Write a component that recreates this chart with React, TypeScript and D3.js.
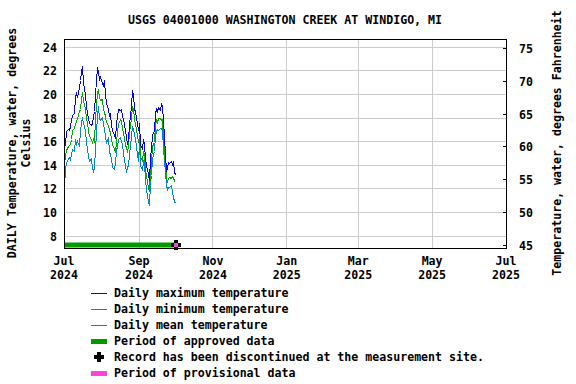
import React from 'react';
import * as d3 from 'd3';

// daily values, Jul 1 2024 .. Oct 2 2024 (deg C)
const startDate = new Date(2024, 6, 1);
const maxTemp = [
  15.6, 15.8, 16.9, 17.1, 17.0, 17.3, 17.8, 18.3, 18.4, 19.9, 20.1, 19.8, 20.6, 21.2, 22.0, 22.4,
  21.0, 20.0, 19.0, 18.5, 18.0, 17.6, 17.4, 17.6, 18.2, 18.6, 20.0, 22.3, 22.0, 21.3, 21.5, 21.0,
  20.8, 21.2, 20.0, 19.3, 18.8, 18.2, 18.4, 17.4, 17.0, 16.6, 16.4, 17.5, 18.2, 18.8, 18.7, 18.8,
  18.3, 17.9, 17.0, 16.4, 15.8, 16.2, 17.5, 19.0, 20.4, 20.0, 18.8, 18.6, 17.6, 17.0, 17.6, 15.8,
  15.4, 16.2, 15.8, 14.6, 14.0, 13.3, 12.8, 14.6, 15.5, 16.6, 17.0, 18.4, 18.8, 18.6, 18.9, 18.7,
  19.2, 19.0, 17.8, 15.0, 13.6, 13.8, 14.3, 14.2, 14.4, 14.1, 14.3, 13.5, 13.2,
];
const minTemp = [
  12.2, 13.8, 14.2, 14.6, 14.7, 14.5, 15.0, 15.4, 15.2, 16.2, 15.8, 16.1, 15.6, 17.0, 17.6, 18.1,
  17.6, 17.0, 16.0, 15.4, 14.9, 14.4, 14.6, 13.8, 13.5, 13.9, 15.4, 18.2, 19.0, 18.0, 17.8, 18.1,
  17.5, 17.2, 16.5, 16.0, 16.3, 15.2, 14.9, 14.6, 13.9, 13.7, 14.2, 15.3, 15.6, 16.2, 16.4, 16.0,
  15.9, 15.0, 14.0, 13.4, 13.9, 14.0, 15.0, 16.5, 17.3, 17.0, 16.7, 16.2, 15.0, 14.4, 15.9, 14.0,
  13.6, 14.4, 14.2, 12.8, 12.0, 11.0, 10.6, 12.6, 13.2, 14.6, 15.2, 16.6, 16.9, 17.1, 17.0, 17.2,
  17.2, 17.0, 15.5, 13.4, 12.3, 12.0, 12.2, 12.2, 12.3, 11.8, 11.3, 11.0, 10.8,
];
const meanTemp = [
  14.2, 14.8, 15.3, 15.6, 15.7, 15.8, 16.2, 17.0, 17.2, 17.6, 17.7, 18.0, 18.6, 18.8, 19.6, 20.2,
  19.5, 18.8, 18.0, 17.6, 17.0, 16.5, 16.2, 16.0, 16.2, 16.0, 18.0, 20.2, 20.5, 19.8, 19.5, 19.6,
  18.8, 18.5, 18.2, 17.7, 17.4, 17.0, 16.8, 16.2, 15.8, 15.4, 15.2, 16.0, 16.8, 17.5, 17.9, 17.8,
  17.2, 16.8, 15.8, 15.5, 15.2, 15.6, 16.8, 18.0, 19.0, 18.8, 18.0, 17.5, 16.6, 16.0, 16.6, 14.8,
  14.4, 15.2, 15.0, 13.7, 13.2, 12.2, 11.8, 13.5, 14.3, 15.6, 16.0, 17.5, 17.8, 17.7, 18.0, 18.0,
  17.8, 17.9, 16.4, 14.0, 12.9, 12.7, 12.9, 13.0, 12.9, 13.1, 13.0, 12.7, 12.6,
];
const celsiusTicks = [8, 10, 12, 14, 16, 18, 20, 22, 24];
const fahrenheitTicks = [45, 50, 55, 60, 65, 70, 75];
const monthTicks = [
  new Date(2024, 6, 1), new Date(2024, 8, 1), new Date(2024, 10, 1), new Date(2025, 0, 1),
  new Date(2025, 2, 1), new Date(2025, 4, 1), new Date(2025, 6, 1),
];
const approvedStart = new Date(2024, 6, 1);
const approvedEnd = new Date(2024, 9, 2);
const discontinuedDate = new Date(2024, 9, 2);

const legendItems = [
  { label: 'Daily maximum temperature', kind: 'line', color: '#0000ff' },
  { label: 'Daily minimum temperature', kind: 'line', color: '#0088cc' },
  { label: 'Daily mean temperature', kind: 'line', color: '#00aa00' },
  { label: 'Period of approved data', kind: 'bar', color: '#009900' },
  { label: 'Record has been discontinued at the measurement site.', kind: 'cross', color: '#000000' },
  { label: 'Period of provisional data', kind: 'bar', color: '#ff44dd' },
];

const font = '"DejaVu Sans Mono", monospace';

const App: React.FC = () => {
  const width = 576;
  const height = 384;
  const box = { left: 64, right: 506, top: 39, bottom: 248 };

  const x = d3.scaleTime().domain([monthTicks[0], monthTicks[monthTicks.length - 1]]).range([box.left, box.right]);
  const y = d3.scaleLinear().domain([7, 24.7]).range([box.bottom, box.top]);
  const yF = (f: number) => y(((f - 32) * 5) / 9);

  const day = (i: number) => d3.timeDay.offset(startDate, i);
  const line = (vals: number[]) =>
    d3.line<number>().x((_, i) => Math.round(x(day(i))) + 0.5).y((d) => Math.round(y(d)) + 0.5)(vals) || '';

  const barY = box.bottom - 3;
  const mx = Math.round(x(discontinuedDate)) - 1;

  return (
    <div style={{ position: 'absolute', left: 0, top: 0 }}>
      <svg width={width} height={height} style={{ display: 'block', background: '#fff' }}>
        <text x={285} y={24} textAnchor="middle" fontFamily={font} fontWeight="bold" fontSize={11.6}>
          USGS 04001000 WASHINGTON CREEK AT WINDIGO, MI
        </text>

        {/* grid */}
        <g shapeRendering="crispEdges">
          {celsiusTicks.map((t) => (
            <line key={'gy' + t} x1={box.left} x2={box.right} y1={y(t)} y2={y(t)} stroke="#cccccc" />
          ))}
          {monthTicks.slice(1, -1).map((t) => (
            <line key={'gx' + t.getTime()} x1={x(t)} x2={x(t)} y1={box.top} y2={box.bottom} stroke="#cccccc" />
          ))}
        </g>

        {/* series */}
        <g shapeRendering="crispEdges">
          <path d={line(minTemp)} fill="none" stroke="#0088cc" strokeWidth={1} />
          <path d={line(meanTemp)} fill="none" stroke="#00aa00" strokeWidth={1} />
          <path d={line(maxTemp)} fill="none" stroke="#0000ff" strokeWidth={1} />
        </g>

        {/* approved period bar + discontinued marker */}
        <line x1={x(approvedStart)} x2={x(approvedEnd)} y1={barY} y2={barY} stroke="#009900" strokeWidth={5} />
        <path d={`M${mx - 2},${barY - 5}h4v3h3v4h-3v3h-4v-3h-3v-4h3z`} fill="#000" />
        <rect x={mx - 2} y={barY - 2} width={4} height={4} fill="#ff44dd" />

        <rect
          x={box.left}
          y={box.top}
          width={box.right - box.left}
          height={box.bottom - box.top}
          fill="none"
          stroke="#000"
          shapeRendering="crispEdges"
        />

        {/* left axis labels */}
        {celsiusTicks.map((t) => (
          <text key={'cl' + t} x={57} y={y(t) + 4.5} textAnchor="end" fontFamily={font} fontWeight="bold" fontSize={11.6}>
            {t}
          </text>
        ))}
        {/* right axis */}
        {fahrenheitTicks.map((t) => (
          <g key={'fl' + t}>
            <line x1={box.right - 3} x2={box.right} y1={yF(t)} y2={yF(t)} stroke="#000" shapeRendering="crispEdges" />
            <text x={519} y={yF(t) + 4.5} fontFamily={font} fontWeight="bold" fontSize={11.6}>
              {t}
            </text>
          </g>
        ))}
        {/* bottom axis */}
        {monthTicks.map((t) => (
          <text key={'mx' + t.getTime()} x={x(t)} textAnchor="middle" fontFamily={font} fontWeight="bold" fontSize={11.6}>
            <tspan x={x(t)} y={265}>{d3.timeFormat('%b')(t)}</tspan>
            <tspan x={x(t)} y={279}>{d3.timeFormat('%Y')(t)}</tspan>
          </text>
        ))}

        <text transform="translate(16,143) rotate(-90)" textAnchor="middle" fontFamily={font} fontWeight="bold" fontSize={11.6}>
          DAILY Temperature, water, degrees
        </text>
        <text transform="translate(30,143) rotate(-90)" textAnchor="middle" fontFamily={font} fontWeight="bold" fontSize={11.6}>
          Celsius
        </text>
        <text transform="translate(561,143) rotate(-90)" textAnchor="middle" fontFamily={font} fontWeight="bold" fontSize={11.6}>
          Temperature, water, degrees Fahrenheit
        </text>

        {/* legend */}
        {legendItems.map((it, i) => {
          const ly = 293 + i * 16;
          return (
            <g key={it.label}>
              {it.kind === 'line' && <rect x={91} y={ly} width={16} height={1} fill={it.color} />}
              {it.kind === 'bar' && <rect x={91} y={ly - 2} width={16} height={5} fill={it.color} />}
              {it.kind === 'cross' && <path d={`M97,${ly - 5}h4v3h3v4h-3v3h-4v-3h-3v-4h3z`} fill="#000" />}
              <text x={114} y={ly + 4} fontFamily={font} fontWeight="bold" fontSize={11.6}>
                {it.label}
              </text>
            </g>
          );
        })}
      </svg>
    </div>
  );
};

export default App;
